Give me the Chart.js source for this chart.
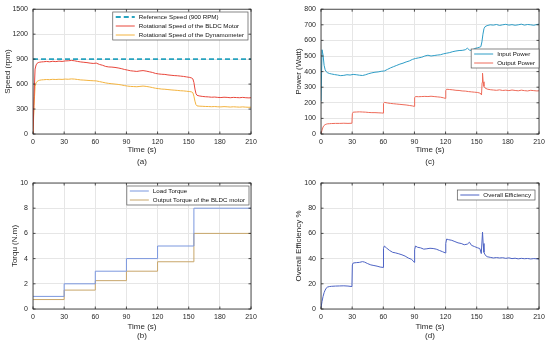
<!DOCTYPE html>
<html>
<head>
<meta charset="utf-8">
<script src="https://cdn.jsdelivr.net/npm/chart.js@4.4.1/dist/chart.umd.min.js"></script>
<style>
  body { margin: 0; background: #fff; }
  .panel { position: absolute; }
</style>
</head>
<body>
<canvas id="speedChart" class="panel" width="275" height="172" style="left:0;top:0"></canvas>
<canvas id="powerChart" class="panel" width="275" height="172" style="left:275px;top:0"></canvas>
<canvas id="torqueChart" class="panel" width="275" height="173" style="left:0;top:172px"></canvas>
<canvas id="effChart" class="panel" width="275" height="173" style="left:275px;top:172px"></canvas>
<script>
// (a) speed
const speedTime = [0,1,2,3,4,5,6,8,10,
    13,16,19,22,25,28,31,34,37,40,
    43,46,49,52,55,58,61,64,67,70,
    73,76,79,82,85,88,91,94,97,100,
    103,106,109,112,115,118,121,124,127,130,
    133,136,139,142,145,148,151,153,154,155,
    156,157,158,160,163,166,169,172,175,178,
    181,184,187,190,193,196,199,202,205,208,
    210];
const motorSpeed = [0,450,780,830,850,858,862,866,868,
    872,868,874,870,876,872,878,880,884,880,
    872,866,862,858,852,848,852,836,826,812,
    806,804,800,794,786,776,768,760,756,752,
    758,762,756,748,740,728,722,718,716,710,
    706,702,700,696,692,686,680,672,662,620,
    540,485,465,458,452,448,446,442,444,440,
    438,442,440,436,440,438,436,440,436,434,
    436];
const dynoSpeed = [0,340,570,615,632,640,645,650,652,
    655,653,657,655,658,656,660,658,662,660,
    655,650,648,645,642,640,638,630,622,614,
    608,604,600,596,590,582,576,572,570,568,
    572,576,572,566,558,550,545,540,538,534,
    530,527,524,520,518,514,510,505,496,455,
    395,352,338,335,333,331,330,328,330,327,
    326,329,327,324,327,325,323,326,323,321,
    322];
const refTime = [0, 210];
const refSpeed = [900, 900];

// (c) power
const inTime = [0,1,2,3,4,5,6,8,10,
    13,16,19,22,25,28,31,34,37,40,
    43,46,49,52,55,58,61,64,67,70,
    73,76,79,82,85,88,91,94,97,100,
    103,106,109,112,115,118,121,124,127,130,
    133,136,139,141,143,145,148,151,153,154,
    155,156,157,158,160,
    163,166,169,172,175,178,181,184,187,190,193,196,199,202,205,208,
    210];
const inputPower = [210,540,505,440,412,400,394,388,385,
    381,378,374,376,380,378,382,380,377,375,
    380,387,392,396,398,402,404,414,424,432,
    440,448,454,462,468,478,484,488,492,500,
    505,500,503,506,508,514,518,522,528,532,
    535,536,540,550,538,535,548,553,557,560,
    590,640,675,688,695,
    700,698,702,696,700,703,698,701,697,700,704,698,702,700,697,702,
    704];
const outTime = [0,1,2,3,4,5,6,8,10,
    14,18,22,26,29.8,
    30.2,31,34,37,40,43,46,49,52,55,58,59.8,
    60.2,61,64,67,70,73,76,79,82,85,88,89.8,
    90.2,91,94,97,100,103,106,109,112,115,118,119.8,
    120.2,121,124,127,130,133,136,139,142,145,148,151,153,154,
    154.6,155.2,155.6,156.2,157,158,160,
    163,166,169,172,175,178,181,184,187,190,193,196,199,202,205,208,
    210];
const outputPower = [0,25,45,55,60,63,65,66,67,
    68,68,69,68,69,
    130,140,141,142,141,140,138,137,137,136,135,134,
    195,203,199,196,194,192,190,188,186,183,180,177,
    232,240,239,240,241,240,242,240,238,236,232,228,
    278,287,285,283,280,279,276,275,272,270,268,266,262,258,
    250,330,390,335,305,295,288,
    284,282,280,283,279,281,278,282,279,277,281,278,276,280,278,276,
    277];

// (b) torque
const torqueTime = [0, 30, 60, 90, 120, 155, 210];
const loadTorque = [1, 2, 3, 4, 5, 8, 8];
const outputTorque = [0.75, 1.5, 2.25, 3, 3.75, 6, 6];

// (d) efficiency
const effTime = [0,1,2,3,4,5,6,8,10,
    14,18,22,26,29.8,
    30.2,31,34,37,40,42,45,48,51,54,57,59.8,
    60.2,61,63,66,69,72,75,78,81,84,87,89,89.8,
    90.2,91,93,96,99,102,105,108,111,114,117,119.8,
    120.2,121,123,126,129,132,135,138,141,143,145,148,151,153,
    154.4,155.6,156.2,157,158,160,
    163,166,169,172,175,178,181,184,187,190,193,196,199,202,205,208,
    210];
const efficiency = [1,6,10,13,15,16.5,17.3,17.8,18,
    18.2,18.3,18.4,18.2,17.8,
    35,36.5,36.8,37,37.6,37.2,36,35,34.5,34,33.3,33,
    48,50,48.5,46.5,45,44.5,43.8,43,42,40.5,39.5,38,37,
    47,50,49,48.5,47.5,47.8,48.2,48,47.5,46.5,45.5,44.5,
    52,55.5,55,54.5,53.5,52.5,52,51,51.5,53,50.5,49.5,48.5,48,
    44,61,52,45,43,41.5,
    41,40.5,40.8,40.5,40.7,40.2,40.6,40,40.3,39.8,40.2,39.9,40.1,39.7,40,39.8,
    39.6];

const FONT = '"Liberation Sans", Arial, Helvetica, sans-serif';
const INK = '#262626';

const pts = (xs, ys) => xs.map((x, i) => ({ x: x, y: ys[i] }));

// matlab style box round the axes, with inward tick marks
const axesFrame = {
    id: 'axesFrame',
    afterDraw(chart) {
        const { ctx, chartArea: a, scales: { x, y } } = chart;
        ctx.save();
        ctx.strokeStyle = INK;
        ctx.lineWidth = 0.8;
        ctx.strokeRect(a.left, a.top, a.right - a.left, a.bottom - a.top);
        ctx.beginPath();
        x.ticks.forEach(t => {
            const px = x.getPixelForValue(t.value);
            ctx.moveTo(px, a.bottom); ctx.lineTo(px, a.bottom - 2.5);
            ctx.moveTo(px, a.top); ctx.lineTo(px, a.top + 2.5);
        });
        y.ticks.forEach(t => {
            const py = y.getPixelForValue(t.value);
            ctx.moveTo(a.left, py); ctx.lineTo(a.left + 2.5, py);
            ctx.moveTo(a.right, py); ctx.lineTo(a.right - 2.5, py);
        });
        ctx.stroke();
        ctx.restore();
    }
};

// legend drawn as a box inside the plot
const boxLegend = {
    id: 'boxLegend',
    afterDraw(chart, args, opts) {
        const ctx = chart.ctx;
        const sets = chart.data.datasets;
        ctx.save();
        ctx.font = '6.2px ' + FONT;
        const textW = Math.max(...sets.map(d => ctx.measureText(d.label).width));
        const w = 26 + textW + 4;
        const h = sets.length * 9 + 1;
        const x0 = opts.right - w;
        const y0 = opts.top;
        ctx.fillStyle = '#fff';
        ctx.fillRect(x0, y0, w, h);
        ctx.strokeStyle = '#555';
        ctx.lineWidth = 0.7;
        ctx.strokeRect(x0, y0, w, h);
        sets.forEach((d, i) => {
            const cy = y0 + 5 + i * 9;
            ctx.beginPath();
            ctx.strokeStyle = d.borderColor;
            ctx.lineWidth = d.borderWidth || 1;
            ctx.setLineDash(d.borderDash || []);
            ctx.moveTo(x0 + 3, cy);
            ctx.lineTo(x0 + 22, cy);
            ctx.stroke();
            ctx.setLineDash([]);
            ctx.fillStyle = '#111';
            ctx.textBaseline = 'middle';
            ctx.fillText(d.label, x0 + 26, cy);
        });
        ctx.restore();
    }
};

function makeChart(id, cfg) {
    const ctx = document.getElementById(id).getContext('2d');
    return new Chart(ctx, {
        type: 'line',
        data: { datasets: cfg.datasets },
        options: {
            responsive: false,
            animation: false,
            layout: { padding: cfg.padding },
            elements: { point: { radius: 0 }, line: { borderWidth: 1, tension: 0 } },
            plugins: {
                legend: { display: false },
                tooltip: { enabled: false },
                boxLegend: cfg.legend
            },
            scales: {
                x: {
                    type: 'linear', min: 0, max: 210,
                    afterFit: s => { s.height = cfg.xHeight; },
                    ticks: { stepSize: 30, padding: 4, color: INK, font: { family: FONT, size: 7 }, callback: v => String(v) },
                    grid: { color: '#e6e6e6', drawTicks: false },
                    border: { display: false },
                    title: {
                        display: true, text: ['Time (s)', cfg.tag], color: INK,
                        font: { family: FONT, size: 8, lineHeight: cfg.titleLine },
                        padding: { top: 0, bottom: cfg.tagPad }
                    }
                },
                y: {
                    type: 'linear', min: cfg.yMin, max: cfg.yMax,
                    afterFit: s => { s.width = cfg.yWidth; },
                    ticks: { stepSize: cfg.yStep, padding: 5, color: INK, font: { family: FONT, size: 7 }, callback: v => String(v) },
                    grid: { color: '#e6e6e6', drawTicks: false },
                    border: { display: false },
                    title: {
                        display: true, text: cfg.yTitle, color: INK,
                        font: { family: FONT, size: 8 },
                        padding: { top: cfg.yTitlePad, bottom: 0 }
                    }
                }
            }
        },
        plugins: [axesFrame, boxLegend]
    });
}

makeChart('speedChart', {
    datasets: [
        { label: 'Reference Speed (900 RPM)', data: pts(refTime, refSpeed), borderColor: '#28a3bf', borderWidth: 1.8, borderDash: [5, 3] },
        { label: 'Rotational Speed of the BLDC Motor', data: pts(speedTime, motorSpeed), borderColor: '#e8463b' },
        { label: 'Rotational Speed of the Dynamometer', data: pts(speedTime, dynoSpeed), borderColor: '#f3b33f' }
    ],
    padding: { left: 0, top: 7, right: 24, bottom: 0 },
    xHeight: 38, yWidth: 33,
    tag: '(a)', titleLine: '12px', tagPad: 4,
    yMin: 0, yMax: 1500, yStep: 300, yTitle: 'Speed (rpm)', yTitlePad: 3,
    legend: { right: 248, top: 12 }
});

makeChart('powerChart', {
    datasets: [
        { label: 'Input Power', data: pts(inTime, inputPower), borderColor: '#2e9dc6' },
        { label: 'Output Power', data: pts(outTime, outputPower), borderColor: '#ee6b5a' }
    ],
    padding: { left: 0, top: 7, right: 11, bottom: 0 },
    xHeight: 38, yWidth: 46,
    tag: '(c)', titleLine: '12px', tagPad: 4,
    yMin: 0, yMax: 800, yStep: 100, yTitle: 'Power (Watt)', yTitlePad: 19,
    legend: { right: 264, top: 49 }
});

makeChart('torqueChart', {
    datasets: [
        { label: 'Load Torque', data: pts(torqueTime, loadTorque), borderColor: '#7b97de', stepped: 'before' },
        { label: 'Output Torque of the BLDC motor', data: pts(torqueTime, outputTorque), borderColor: '#c8a66a', stepped: 'before' }
    ],
    padding: { left: 0, top: 11, right: 24, bottom: 0 },
    xHeight: 36, yWidth: 33,
    tag: '(b)', titleLine: '9px', tagPad: 4.5,
    yMin: 0, yMax: 10, yStep: 2, yTitle: 'Torqu (N.m)', yTitlePad: 10,
    legend: { right: 249, top: 14 }
});

makeChart('effChart', {
    datasets: [
        { label: 'Overall Efficiency', data: pts(effTime, efficiency), borderColor: '#4d63c4' }
    ],
    padding: { left: 0, top: 11, right: 11, bottom: 0 },
    xHeight: 36, yWidth: 46,
    tag: '(d)', titleLine: '9px', tagPad: 4.5,
    yMin: 0, yMax: 100, yStep: 20, yTitle: 'Overall Efficiency %', yTitlePad: 19,
    legend: { right: 260, top: 18 }
});
</script>
</body>
</html>
